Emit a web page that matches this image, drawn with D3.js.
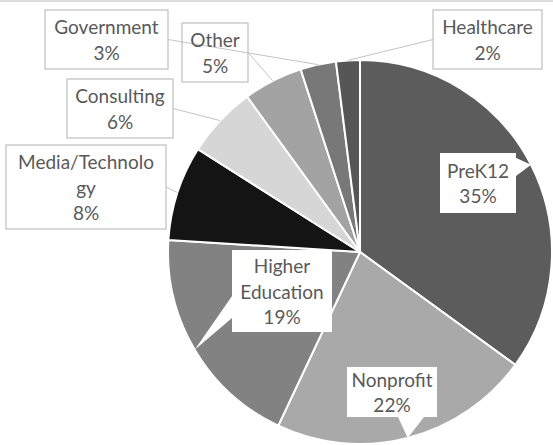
<!DOCTYPE html>
<html>
<head>
<meta charset="utf-8">
<script src="https://cdn.jsdelivr.net/npm/d3@7"></script>
<style>
  body { margin: 0; background: #fff; }
  text { font-family: Lato, "Open Sans", sans-serif; }
</style>
</head>
<body>
<div id="pieChart"></div>
<script>
// data, clockwise from 12 o'clock
const sectors = ["PreK12", "Nonprofit", "Higher Education", "Media/Technology", "Consulting", "Other", "Government", "Healthcare"];
const shares = [35, 22, 19, 8, 6, 5, 3, 2];
// how the label text is broken in the picture
const labelLines = [["PreK12"], ["Nonprofit"], ["Higher", "Education"], ["Media/Technolo", "gy"], ["Consulting"], ["Other"], ["Government"], ["Healthcare"]];

const fills = ["#5c5c5c", "#a9a9a9", "#828282", "#141414", "#d6d6d6", "#a3a3a3", "#787878", "#565656"];

// callout placement: box [x, y, w, h], kind and where the leader leaves the box
const callouts = [
  { box: [440, 153, 76, 60], kind: "wedge", base: [[505, 153], [516, 176]] },
  { box: [347, 367, 90, 50], kind: "wedge", base: [[398, 417], [424, 417]] },
  { box: [232, 250, 100, 82], kind: "wedge", base: [[232, 296], [232, 318]] },
  { box: [6, 145, 160, 84], kind: "line", side: "right" },
  { box: [67, 79, 106, 59], kind: "line", side: "right" },
  { box: [182, 23, 66, 59], kind: "line", side: "right" },
  { box: [45, 10, 123, 59], kind: "line", side: "right" },
  { box: [433, 10, 109, 59], kind: "line", side: "left" }
];

const width = 553;
const height = 445;
const cx = 360, cy = 252, radius = 192;

const svg = d3.select("#pieChart")
  .append("svg")
  .attr("width", width)
  .attr("height", height);

// thin frame line along the top
svg.append("line")
  .attr("x1", 0).attr("x2", width)
  .attr("y1", 1).attr("y2", 1)
  .attr("stroke", "#d0d0d0")
  .attr("stroke-width", 1.5);

const pie = d3.pie().sort(null).value(d => d);
const arcs = pie(shares);

const arc = d3.arc().innerRadius(0).outerRadius(radius);
const edge = d3.arc().innerRadius(radius).outerRadius(radius);

const g = svg.append("g").attr("transform", `translate(${cx},${cy})`);

g.selectAll("path")
  .data(arcs)
  .enter()
  .append("path")
  .attr("d", arc)
  .attr("fill", (d, i) => fills[i])
  .attr("stroke", "#fff")
  .attr("stroke-width", 2);

// point on the rim at the middle of each slice (page coords)
function rimPoint(d) {
  const p = edge.centroid(d);
  return [p[0] + cx, p[1] + cy];
}

const boxes = svg.append("g");
const leaders = svg.append("g");
const labels = svg.append("g");

arcs.forEach((d, i) => {
  const c = callouts[i];
  const [bx, by, bw, bh] = c.box;
  const tip = rimPoint(d);

  if (c.kind === "line") {
    const ax = c.side === "right" ? bx + bw : bx;
    const ay = by + bh / 2;
    boxes.append("rect")
      .attr("x", bx).attr("y", by)
      .attr("width", bw).attr("height", bh)
      .attr("fill", "#fff")
      .attr("stroke", "#bfbfbf")
      .attr("stroke-width", 1.2);
    // leaders sit on top of the boxes, like in the original
    leaders.append("line")
      .attr("x1", ax).attr("y1", ay)
      .attr("x2", tip[0]).attr("y2", tip[1])
      .attr("stroke", "#c4c4c4")
      .attr("stroke-width", 1);
  } else {
    boxes.append("path")
      .attr("d", d3.line()([c.base[0], tip, c.base[1]]))
      .attr("fill", "#fff");
    boxes.append("rect")
      .attr("x", bx).attr("y", by)
      .attr("width", bw).attr("height", bh)
      .attr("fill", "#fff");
  }

  const lines = labelLines[i].concat([shares[i] + "%"]);
  const step = 25.5;
  const top = by + bh / 2 - (lines.length - 1) * step / 2;
  const t = labels.append("text")
    .attr("text-anchor", "middle")
    .attr("fill", "#595959")
    .attr("font-size", 19);
  lines.forEach((s, k) => {
    t.append("tspan")
      .attr("x", bx + bw / 2)
      .attr("y", top + k * step)
      .attr("dominant-baseline", "central")
      .text(s);
  });
});
</script>
</body>
</html>
